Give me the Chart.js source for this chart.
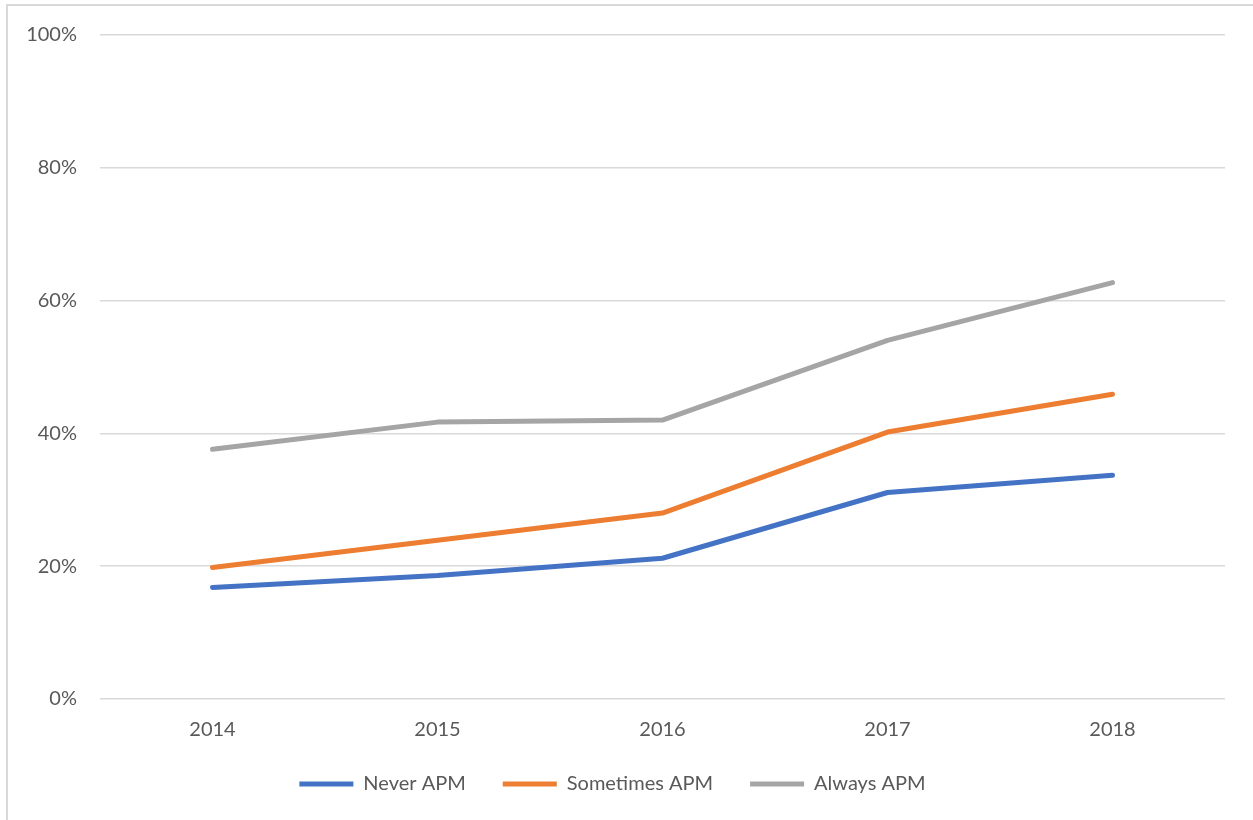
<!DOCTYPE html>
<html>
<head>
<meta charset="utf-8">
<script src="https://cdn.jsdelivr.net/npm/chart.js@4/dist/chart.umd.min.js"></script>
<style>
  html, body { margin: 0; padding: 0; background: #fff; overflow: hidden; }
  #wrap { position: relative; width: 1253px; height: 820px; }
</style>
</head>
<body>
<div id="wrap"><canvas id="myChart"></canvas></div>
<script>
// years on the x axis
const years = ['2014', '2015', '2016', '2017', '2018'];

// share per year, in percent
const neverAPM = [16.8, 18.6, 21.2, 31.1, 33.7];
const sometimesAPM = [19.8, 23.9, 28.0, 40.2, 45.9];
const alwaysAPM = [37.6, 41.7, 42.0, 54.0, 62.7];

const yTicks = [0, 20, 40, 60, 80, 100];

const textColor = '#595959';
const gridColor = '#d9d9d9';
const font = { family: 'Lato, "Liberation Sans", sans-serif', size: 20 };

// thin gray frame around the whole chart
const frame = {
  id: 'frame',
  beforeDraw(chart) {
    const c = chart.ctx;
    c.save();
    c.strokeStyle = gridColor;
    c.lineWidth = 2;
    c.strokeRect(7, 5, chart.width + 20, chart.height + 20);
    c.restore();
  }
};

let series = (label, data, color) => ({
  label: label,
  data: data,
  borderColor: color,
  backgroundColor: color,
  borderWidth: 5,
  borderCapStyle: 'round',
  borderJoinStyle: 'round',
  pointRadius: 0,
  tension: 0
});

const ctx = document.getElementById('myChart');

new Chart(ctx, {
  type: 'line',
  data: {
    labels: years,
    datasets: [
      series('Never APM', neverAPM, '#4472c4'),
      series('Sometimes APM', sometimesAPM, '#ed7d31'),
      series('Always APM', alwaysAPM, '#a5a5a5')
    ]
  },
  plugins: [frame],
  options: {
    responsive: true,
    maintainAspectRatio: false,
    animation: false,
    layout: { padding: { top: 25, right: 28, bottom: 16, left: 0 } },
    plugins: {
      tooltip: { enabled: false },
      legend: {
        position: 'bottom',
        labels: {
          usePointStyle: true,
          pointStyle: 'line',
          pointStyleWidth: 54,
          boxHeight: 10,
          padding: 37,
          color: textColor,
          font: font
        }
      }
    },
    scales: {
      x: {
        offset: true,
        afterFit: (scale) => { scale.height = 38; },
        grid: { display: false, drawTicks: false },
        border: { display: false },
        ticks: { color: textColor, font: font, padding: 19 }
      },
      y: {
        min: 0,
        max: 100,
        afterFit: (scale) => { scale.width = 100; },
        afterBuildTicks: (scale) => { scale.ticks = yTicks.map(v => ({ value: v })); },
        grid: { color: gridColor, lineWidth: 1.5, drawTicks: false },
        border: { display: false },
        ticks: {
          color: textColor,
          font: font,
          padding: 23,
          callback: (v) => v + '%'
        }
      }
    }
  }
});
</script>
</body>
</html>
